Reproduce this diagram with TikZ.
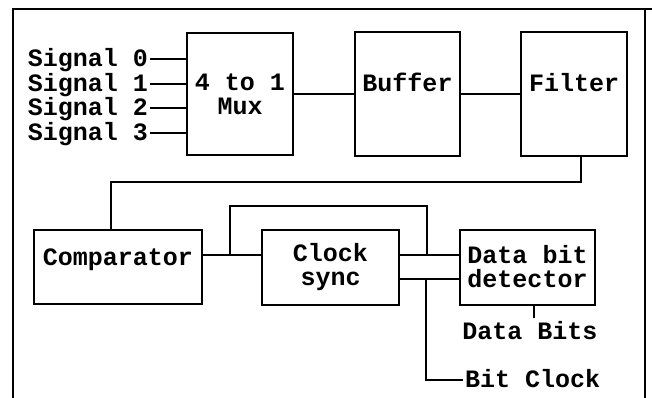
\documentclass[tikz,border=0pt]{standalone}
\usepackage{fontspec}
\setmonofont{Liberation Mono}
\usetikzlibrary{positioning}

\begin{document}
\begin{tikzpicture}
    [x=1pt, y=-1pt, line width=2pt,
     blockBox/.style={rectangle, draw=black, inner sep=0pt, align=center, font=\fontsize{25}{24}\selectfont\ttfamily\bfseries},
     liftedBox/.style={blockBox, text height=18pt, text depth=22pt},
     signalLabel/.style={inner sep=1pt, text height=15pt, text depth=0pt, font=\fontsize{25}{24}\selectfont\ttfamily\bfseries},
    ]

    \useasboundingbox (0,0) rectangle (652,398);
    \draw (13,398) -- (13,9) -- (652,9);
    \draw (645,9) -- (645,398);

    \node[blockBox, minimum width=106pt, minimum height=122pt] (muxBox) at (240,94) {4 to 1\\Mux};
    \node[liftedBox, minimum width=105pt, minimum height=124pt] (bufferBox) [right=60pt of muxBox] {Buffer}
        edge [-] (muxBox);
    \node[liftedBox, minimum width=106pt, minimum height=124pt] (filterBox) [right=59pt of bufferBox] {Filter}
        edge [-] (bufferBox);

    \node[signalLabel, anchor=east] (sigZero) at (150,59) {Signal 0};
    \node[signalLabel, anchor=east] (sigOne) at (150,84) {Signal 1};
    \node[signalLabel, anchor=east] (sigTwo) at (150,108) {Signal 2};
    \node[signalLabel, anchor=east] (sigThree) at (150,133) {Signal 3};
    \foreach \sig in {sigZero, sigOne, sigTwo, sigThree}
        \draw (\sig.east) -- (\sig.east -| muxBox.west);

    \node[liftedBox, minimum width=168pt, minimum height=74pt] (compBox) at (118,267) {Comparator};
    \node[blockBox, minimum width=137pt, minimum height=75pt] (syncBox) [right=58pt of compBox] {Clock\\sync};
    \node[blockBox, minimum width=135pt, minimum height=75pt] (detectBox) [right=59pt of syncBox] {Data bit\\detector};

    \draw ([xshift=7pt]filterBox.south) -- ++(0,25) -| ([xshift=-7pt]compBox.north);
    \draw ([yshift=12pt]compBox.east) -- ([yshift=12pt]syncBox.west);
    \draw ([yshift=12pt]syncBox.east) -- ([yshift=12pt]detectBox.west);
    \draw ([yshift=-12pt]syncBox.east) -- ([yshift=-12pt]detectBox.west);

    \coordinate (splitA) at (230,255);
    \coordinate (splitB) at (427,255);
    \coordinate (splitC) at (426,279.5);
    \draw (splitA) -- ++(0,-49) -| (splitB);

    \node[signalLabel] (dataBits) at (530,332) {Data Bits};
    \draw ([xshift=6.5pt]detectBox.south) -- ([xshift=6.5pt]detectBox.south |- dataBits.north) [shorten >=5pt];
    \node[signalLabel, anchor=west] (bitClock) at (463,380) {Bit Clock};
    \draw (splitC) |- (bitClock.west);

\end{tikzpicture}
\end{document}
